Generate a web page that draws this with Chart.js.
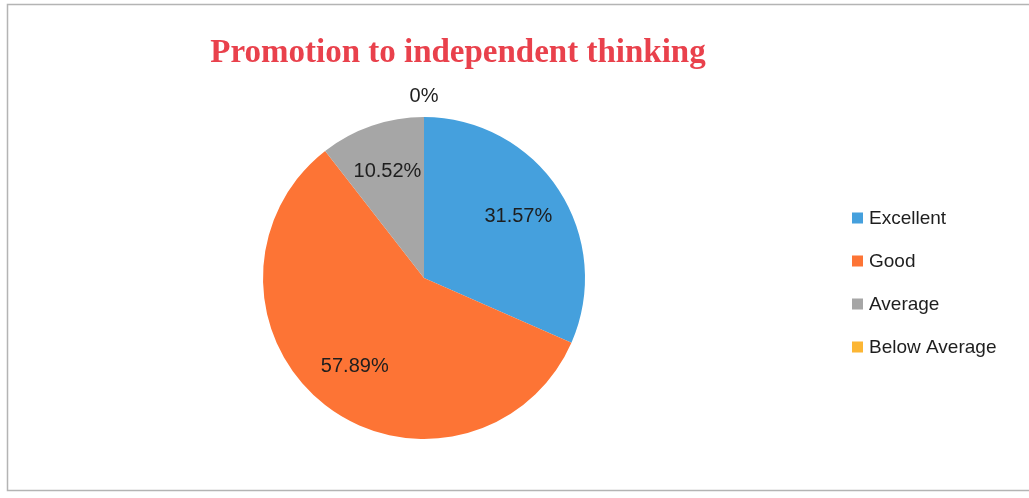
<!DOCTYPE html>
<html>
<head>
<meta charset="utf-8">
<script src="https://cdn.jsdelivr.net/npm/chart.js@4"></script>
<style>
    html, body { margin: 0; padding: 0; background: #ffffff; }
    #chart { display: block; }
</style>
</head>
<body>
<canvas id="chart" width="1029" height="498"></canvas>
<script>
const chartTitle = 'Promotion to independent thinking';
const categories = ['Excellent', 'Good', 'Average', 'Below Average'];
const percentages = [31.57, 57.89, 10.52, 0];
const sliceColors = ['#45a0dd', '#fd7435', '#a6a6a6', '#fcb634'];

// draws frame, title, slice labels and legend like the original Excel chart
const decorations = {
    id: 'decorations',
    beforeDraw(chart) {
        const ctx = chart.ctx;
        ctx.save();
        ctx.strokeStyle = '#b4b4b4';
        ctx.lineWidth = 1.5;
        ctx.strokeRect(7.5, 4.5, 1030, 486);
        ctx.restore();
    },
    afterDraw(chart) {
        const ctx = chart.ctx;
        ctx.save();

        // title
        ctx.fillStyle = '#e9414c';
        ctx.font = 'bold 33px "Liberation Serif", "Times New Roman", serif';
        ctx.textAlign = 'center';
        ctx.textBaseline = 'alphabetic';
        ctx.fillText(chartTitle, 458, 62);

        // slice labels
        ctx.fillStyle = '#1e1e1e';
        ctx.font = '20px "Liberation Sans", Arial, sans-serif';
        ctx.textBaseline = 'middle';
        const meta = chart.getDatasetMeta(0);
        meta.data.forEach((arc, i) => {
            const p = arc.getProps(['x', 'y', 'startAngle', 'endAngle', 'outerRadius'], true);
            const mid = (p.startAngle + p.endAngle) / 2;
            const r = percentages[i] === 0 ? p.outerRadius + 21 : p.outerRadius * 0.7;
            ctx.fillText(percentages[i] + '%', p.x + Math.cos(mid) * r, p.y + Math.sin(mid) * r);
        });

        // legend
        ctx.font = '19px "Liberation Sans", Arial, sans-serif';
        ctx.textAlign = 'left';
        categories.forEach((name, i) => {
            const y = 218 + i * 43;
            ctx.fillStyle = sliceColors[i];
            ctx.fillRect(852, y - 5.5, 11, 11);
            ctx.fillStyle = '#1e1e1e';
            ctx.fillText(name, 869, y + 1);
        });

        ctx.restore();
    }
};

new Chart(document.getElementById('chart'), {
    type: 'pie',
    data: {
        labels: categories,
        datasets: [{
            data: percentages,
            backgroundColor: sliceColors,
            borderWidth: 0
        }]
    },
    options: {
        responsive: false,
        animation: false,
        layout: {
            padding: { left: 263, right: 444, top: 117, bottom: 59 }
        },
        plugins: {
            legend: { display: false },
            title: { display: false },
            tooltip: { enabled: false }
        }
    },
    plugins: [decorations]
});
</script>
</body>
</html>
